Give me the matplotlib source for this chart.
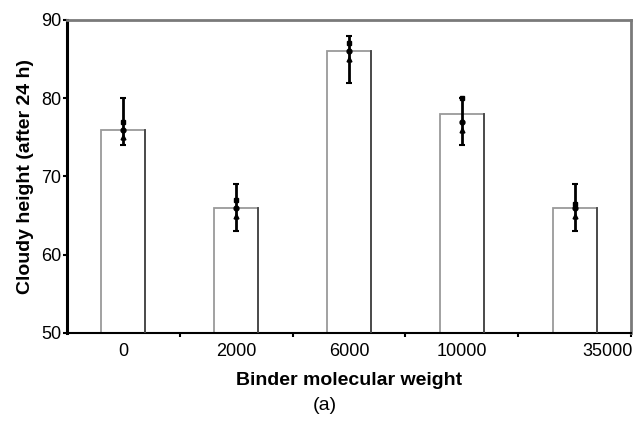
import matplotlib.pyplot as plt
import matplotlib.transforms as mtransforms
from matplotlib.ticker import FixedLocator

plt.rcParams['font.family'] = ['Liberation Sans', 'DejaVu Sans']

categories = ['0', '2000', '6000', '10000', '35000']
heights = [76, 66, 86, 78, 66]
err_low = [74, 63, 82, 74, 63]
err_high = [80, 69, 88, 80, 69]
# individual measurements drawn on top of each bar
points = [[77, 76, 75], [67, 66, 65], [87, 86, 85], [80, 77, 76], [66.5, 66, 65]]
point_markers = ['s', 'o', '^']

fig = plt.figure(figsize=(6.35, 4.23), dpi=100)
ax = fig.add_axes([0.1055, 0.2128, 0.8882, 0.74])

x = list(range(len(categories)))
bars = ax.bar(x, [h - 50 for h in heights], bottom=50, width=0.39,
              color='white', edgecolor='#9a9a9a', linewidth=1.3, zorder=2)
# darker right edge on each bar
for b in bars:
    xr = b.get_x() + b.get_width()
    ax.plot([xr, xr], [50, b.get_y() + b.get_height()], color='#444444', lw=1.3, zorder=3)

lower = [h - lo for h, lo in zip(heights, err_low)]
upper = [hi - h for h, hi in zip(heights, err_high)]
ax.errorbar(x, heights, yerr=[lower, upper], fmt='none', ecolor='black',
            elinewidth=2, capsize=2.5, capthick=1.5, zorder=4)
for i, vals in enumerate(points):
    for v, m in zip(vals, point_markers):
        ax.plot(i, v, marker=m, color='black', markersize=3.5, zorder=5)

ax.set_xlim(-0.5, 4.5)
ax.set_ylim(50, 90)
ax.set_yticks([50, 60, 70, 80, 90])
ax.set_xticks(x)
ax.set_xticklabels(categories)
ax.xaxis.set_minor_locator(FixedLocator([0.5, 1.5, 2.5, 3.5, 4.5]))
ax.tick_params(axis='x', which='major', length=0, pad=7, labelsize=13)
ax.tick_params(axis='x', which='minor', length=3, width=1.5, direction='out')
ax.tick_params(axis='y', length=3, width=1.5, direction='out', pad=1, labelsize=13)

# last label sits flush with the right end of the axis
last = ax.get_xticklabels()[-1]
last.set_horizontalalignment('right')
last.set_transform(last.get_transform() + mtransforms.ScaledTranslation(0.58, 0, fig.dpi_scale_trans))

ax.spines['left'].set_linewidth(2.2)
ax.spines['left'].set_color('black')
ax.spines['bottom'].set_linewidth(1.5)
ax.spines['bottom'].set_color('black')
ax.spines['top'].set_linewidth(2)
ax.spines['top'].set_color('#7a7a7a')
ax.spines['right'].set_linewidth(2)
ax.spines['right'].set_color('#7a7a7a')

ax.set_ylabel('Cloudy height (after 24 h)', fontsize=14, fontweight='bold', labelpad=5)
ax.set_xlabel('Binder molecular weight', fontsize=14, fontweight='bold', labelpad=9)
fig.text(0.512, 0.03, '(a)', fontsize=14, ha='center')

fig.savefig('out.png', dpi=100)
